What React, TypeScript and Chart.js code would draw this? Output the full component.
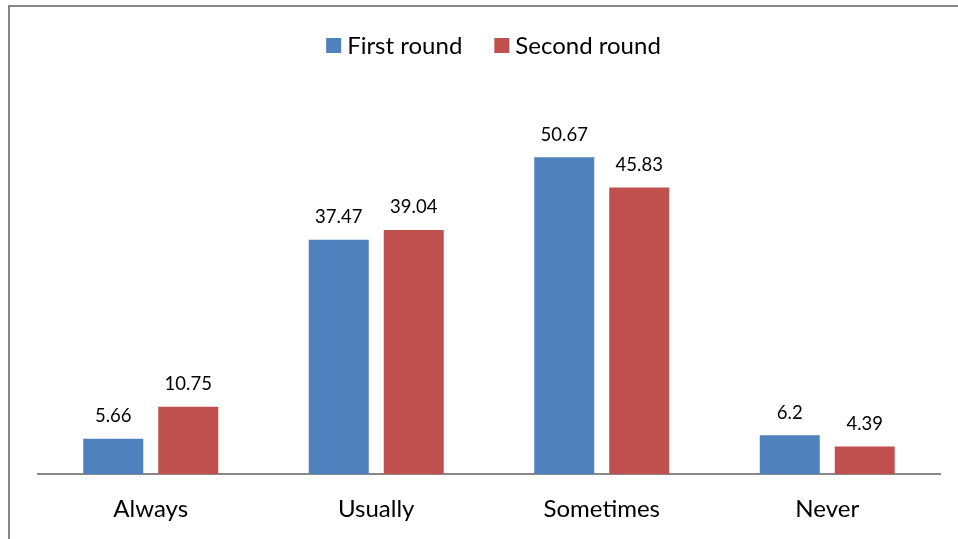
import React, { useEffect, useRef } from "react";
import { Chart, registerables } from "chart.js";

Chart.register(...registerables);

const categories = ["Always", "Usually", "Sometimes", "Never"];
const firstRound = [5.66, 37.47, 50.67, 6.2];
const secondRound = [10.75, 39.04, 45.83, 4.39];
const seriesNames = ["First round", "Second round"];
const seriesColors = ["#4F81BD", "#C0504D"];

const FONT = "Lato, 'Open Sans', sans-serif";

const dataLabels = {
  id: "dataLabels",
  afterDatasetsDraw(chart: any) {
    const ctx = chart.ctx;
    ctx.save();
    ctx.font = `18.5px ${FONT}`;
    ctx.fillStyle = "#000";
    ctx.textAlign = "center";
    ctx.textBaseline = "middle";
    chart.data.datasets.forEach((ds: any, di: number) => {
      const meta = chart.getDatasetMeta(di);
      meta.data.forEach((bar: any, i: number) => {
        ctx.fillText(String(ds.data[i]), bar.x, bar.y - 22.5);
      });
    });
    ctx.restore();
  },
};

const customLegend = {
  id: "customLegend",
  afterDraw(chart: any) {
    const ctx = chart.ctx;
    ctx.save();
    ctx.font = `24px ${FONT}`;
    ctx.textBaseline = "middle";
    ctx.textAlign = "left";
    const box = 15, gapText = 6, gapItem = 32;
    const items = chart.data.datasets.map((ds: any) => ({
      label: ds.label,
      color: ds.backgroundColor,
      w: ctx.measureText(ds.label).width,
    }));
    const total = items.reduce((a: number, it: any) => a + box + gapText + it.w, 0) + gapItem * (items.length - 1);
    let x = 483.5 - total / 2;
    const cy = 38.5;
    items.forEach((it: any) => {
      ctx.fillStyle = it.color;
      ctx.fillRect(x, cy - box / 2, box, box);
      x += box + gapText;
      ctx.fillStyle = "#000";
      ctx.fillText(it.label, x, cy + 1);
      x += it.w + gapItem;
    });
    ctx.restore();
  },
};

export default function App() {
  const ref = useRef<HTMLCanvasElement>(null);
  useEffect(() => {
    const chart = new Chart(ref.current!, {
      type: "bar",
      data: {
        labels: categories,
        datasets: [
          { label: seriesNames[0], data: firstRound, backgroundColor: seriesColors[0] },
          { label: seriesNames[1], data: secondRound, backgroundColor: seriesColors[1] },
        ],
      },
      options: {
        responsive: false,
        animation: false,
        maintainAspectRatio: false,
        layout: { padding: { left: 28, right: 18, top: 92, bottom: 0 } },
        datasets: { bar: { categoryPercentage: 0.665, barPercentage: 0.8 } },
        plugins: {
          legend: { display: false },
          tooltip: { enabled: false },
        },
        scales: {
          x: {
            grid: { display: false, drawTicks: false },
            border: { display: true, color: "#888", width: 2 },
            ticks: { color: "#000", font: { family: FONT, size: 24 }, padding: 21 },
            afterFit: (s: any) => { s.height = 65; },
          },
          y: {
            display: false,
            min: 0,
            max: 60,
          },
        },
      },
      plugins: [dataLabels, customLegend],
    });
    return () => chart.destroy();
  }, []);
  return (
    <div
      style={{
        position: "absolute",
        left: 8,
        top: 5,
        width: 960,
        height: 540,
        borderLeft: "2px solid #878787",
        borderTop: "2px solid #878787",
        background: "#fff",
      }}
    >
      <canvas ref={ref} width={948} height={532} style={{ display: "block" }} />
    </div>
  );
}
